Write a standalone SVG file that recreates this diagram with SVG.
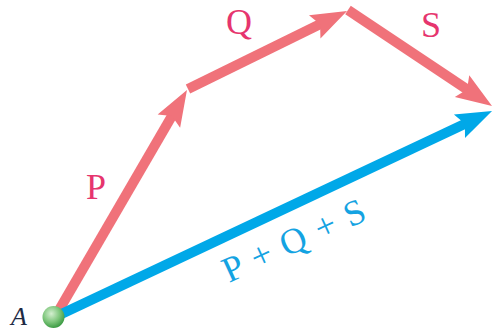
<svg xmlns="http://www.w3.org/2000/svg" width="493" height="331" viewBox="0 0 493 331">
<defs>
<style>
.red{stroke:#F0727A;stroke-width:10;fill:none;stroke-linecap:butt}
.blue{stroke:#00A8E8;stroke-width:10;fill:none;stroke-linecap:butt}
.lbl{font-family:"Liberation Serif","Times New Roman",serif;font-size:36px;fill:#E6356E}
.sum{font-family:"Liberation Serif","Times New Roman",serif;font-size:36px;fill:#14A3E2}
</style>
<marker id="ahr" markerUnits="userSpaceOnUse" markerWidth="60" markerHeight="40" viewBox="-15 -20 60 40" refX="0" refY="0" orient="auto" overflow="visible">
<path d="M28,0 L-8,-13 L-2,0 L-8,13 Z" fill="#F0727A"/>
</marker>
<marker id="ahb" markerUnits="userSpaceOnUse" markerWidth="60" markerHeight="40" viewBox="-15 -20 60 40" refX="0" refY="0" orient="auto" overflow="visible">
<path d="M28,0 L-8,-13 L-2,0 L-8,13 Z" fill="#00A8E8"/>
</marker>
<radialGradient id="g" cx="0.4" cy="0.35" r="0.65">
<stop offset="0" stop-color="#D4EFD0"/>
<stop offset="0.6" stop-color="#7CC57A"/>
<stop offset="1" stop-color="#3E9C45"/>
</radialGradient>
</defs>
<g id="connectors">
<path id="P" class="red" d="M55,317 L172.9,114.2" marker-end="url(#ahr)"/>
<path id="Q" class="red" d="M188,89 L321.9,23.3" marker-end="url(#ahr)"/>
<path id="S" class="red" d="M348,10 L468.7,90.5" marker-end="url(#ahr)"/>
<path id="R" class="blue" d="M55,317 L466.7,122.9" marker-end="url(#ahb)"/>
</g>
<g id="labels">
<text class="lbl" x="86" y="199">P</text>
<text class="lbl" x="226" y="34">Q</text>
<text class="lbl" x="421" y="37">S</text>
<text class="sum" transform="translate(229,283) rotate(-24.5)" word-spacing="3">P + Q + S</text>
</g>
<g id="pointA">
<circle cx="53.5" cy="317" r="11" fill="url(#g)"/>
<text x="11" y="325" font-family="Liberation Serif,serif" font-style="italic" font-size="26" fill="#1E2A44">A</text>
</g>
</svg>
